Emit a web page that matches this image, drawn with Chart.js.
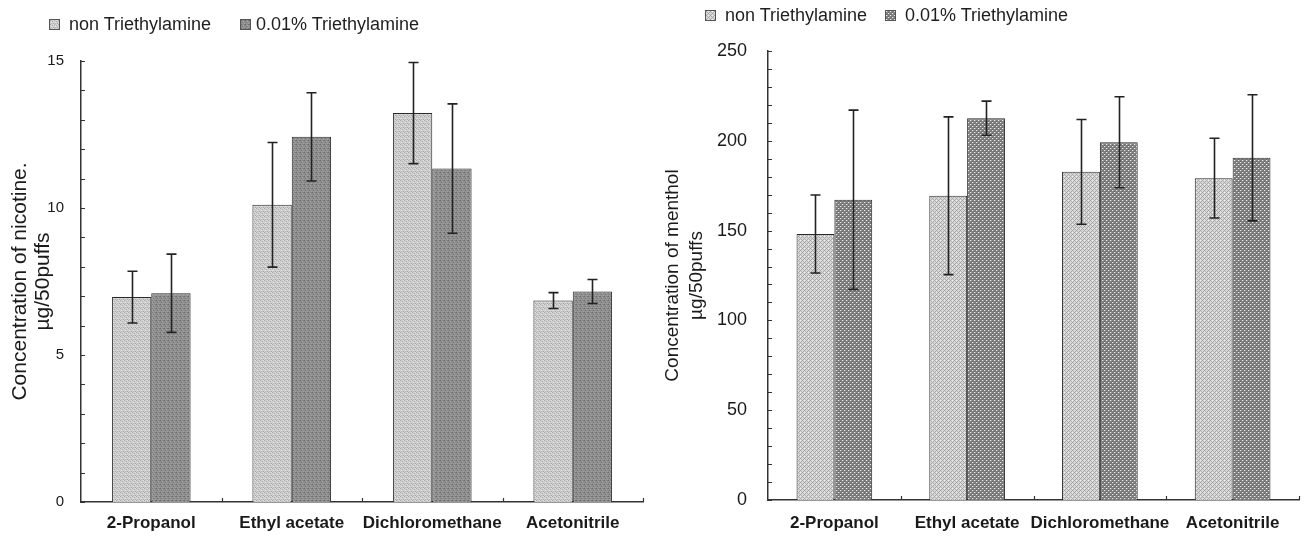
<!DOCTYPE html>
<html>
<head>
<meta charset="utf-8">
<script src="https://cdn.jsdelivr.net/npm/chart.js@4.4.1/dist/chart.umd.min.js"></script>
<style>
  html, body { margin: 0; padding: 0; background: #fff; }
  body { width: 1304px; height: 540px; position: relative; overflow: hidden;
         font-family: "Liberation Sans", Arial, sans-serif; color: #1e1e1e; }
  .panel { position: absolute; top: 0; height: 540px; }
  #leftPanel { left: 0; width: 650px; }
  #rightPanel { left: 650px; width: 654px; }
  .lg { position: absolute; font-size: 18px; line-height: 18px; white-space: nowrap; }
  .sw { position: absolute; width: 11px; height: 11px; box-sizing: border-box; border: 1px solid #555; }
</style>
</head>
<body>
<div class="panel" id="leftPanel"><canvas id="nicotineChart"></canvas></div>
<div class="panel" id="rightPanel"><canvas id="mentholChart"></canvas></div>

<div class="sw" id="swL0" style="left:49px; top:19px;"></div>
<div class="lg" style="left:69px; top:15px;">non Triethylamine</div>
<div class="sw" id="swL1" style="left:240px; top:19px;"></div>
<div class="lg" style="left:256px; top:15px;">0.01% Triethylamine</div>

<div class="sw" id="swR0" style="left:705px; top:10px;"></div>
<div class="lg" style="left:725px; top:6px;">non Triethylamine</div>
<div class="sw" id="swR1" style="left:885px; top:10px;"></div>
<div class="lg" style="left:905px; top:6px;">0.01% Triethylamine</div>

<script>
const categories = ["2-Propanol", "Ethyl acetate", "Dichloromethane", "Acetonitrile"];
const seriesNames = ["non Triethylamine", "0.01% Triethylamine"];

// nicotine, µg/50puffs (mean and error half-width)
const nicotineNon    = [6.97, 10.11, 13.23, 6.85];
const nicotineNonErr = [0.88, 2.12, 1.72, 0.27];
const nicotineTea    = [7.10, 12.42, 11.34, 7.16];
const nicotineTeaErr = [1.33, 1.50, 2.20, 0.41];

// menthol, µg/50puffs
const mentholNon    = [148.1, 169.4, 182.7, 179.2];
const mentholNonErr = [21.7, 43.9, 29.2, 22.2];
const mentholTea    = [167.2, 212.6, 199.2, 190.5];
const mentholTeaErr = [49.9, 9.5, 25.3, 35.1];

const nicotineTicks = [0, 5, 10, 15];
const mentholTicks = [0, 50, 100, 150, 200, 250];

document.addEventListener("DOMContentLoaded", function () {

    Chart.defaults.font.family = "'Liberation Sans', Arial, sans-serif";
    Chart.defaults.color = "#1e1e1e";

    function makePattern(size, base, marks) {
        const c = document.createElement("canvas");
        c.width = size; c.height = size;
        const g = c.getContext("2d");
        g.fillStyle = base;
        g.fillRect(0, 0, size, size);
        marks.forEach(([x, y, col]) => { g.fillStyle = col; g.fillRect(x, y, 1, 1); });
        return c;
    }

    const tiles = {
        leftLight: makePattern(4, "#cfcfcf", [[0,0,"#aaaaaa"],[2,1,"#b0b0b0"],[1,2,"#e4e4e4"],[3,3,"#a8a8a8"],[3,0,"#e0e0e0"],[1,3,"#b4b4b4"]]),
        leftDark:  makePattern(4, "#8e8e8e", [[0,0,"#6c6c6c"],[2,1,"#a6a6a6"],[1,2,"#727272"],[3,3,"#a4a4a4"],[3,0,"#777777"],[1,3,"#9c9c9c"]]),
        rightLight: makePattern(4, "#d8d8d8", [[0,0,"#a2a2a2"],[1,1,"#b0b0b0"],[2,2,"#a2a2a2"],[3,3,"#b0b0b0"],[3,1,"#a8a8a8"],[1,3,"#a8a8a8"],[2,0,"#eeeeee"]]),
        rightDark: makePattern(4, "#7e7e7e", [[0,0,"#f2f2f2"],[2,2,"#e8e8e8"],[1,0,"#9a9a9a"],[3,2,"#9a9a9a"],[2,1,"#6a6a6a"],[0,3,"#6a6a6a"]]),
    };

    const fill = {};
    const probe = document.createElement("canvas").getContext("2d");
    Object.keys(tiles).forEach(k => { fill[k] = probe.createPattern(tiles[k], "repeat"); });

    [["swL0", "leftLight"], ["swL1", "leftDark"], ["swR0", "rightLight"], ["swR1", "rightDark"]].forEach(([id, k]) => {
        document.getElementById(id).style.background = "url(" + tiles[k].toDataURL() + ")";
    });

    const errorBars = {
        id: "errorBars",
        afterDatasetsDraw(chart, args, opts) {
            const ctx = chart.ctx, yScale = chart.scales.y;
            ctx.save();
            ctx.strokeStyle = "#222";
            ctx.lineWidth = 1.6;
            chart.data.datasets.forEach((ds, di) => {
                chart.getDatasetMeta(di).data.forEach((bar, i) => {
                    const v = ds.data[i], e = opts.errors[di][i];
                    const top = yScale.getPixelForValue(v + e);
                    const bot = yScale.getPixelForValue(v - e);
                    const x = Math.round(bar.x) + 0.5;
                    ctx.beginPath();
                    ctx.moveTo(x, top); ctx.lineTo(x, bot);
                    ctx.moveTo(x - opts.cap, top); ctx.lineTo(x + opts.cap, top);
                    ctx.moveTo(x - opts.cap, bot); ctx.lineTo(x + opts.cap, bot);
                    ctx.stroke();
                });
            });
            ctx.restore();
        }
    };

    // short tick marks pointing into the plot
    const innerTicks = {
        id: "innerTicks",
        afterDraw(chart, args, opts) {
            const { ctx, chartArea, scales: { x, y } } = chart;
            ctx.save();
            ctx.strokeStyle = "#333";
            ctx.lineWidth = 1.2;
            ctx.beginPath();
            y.ticks.forEach(t => {
                const py = Math.round(y.getPixelForValue(t.value)) + 0.5;
                ctx.moveTo(chartArea.left, py);
                ctx.lineTo(chartArea.left + opts.len, py);
            });
            for (let i = 0; i < categories.length; i++) {
                const px = Math.round(x.getPixelForValue(i + 0.5)) + 0.5;
                ctx.moveTo(px, chartArea.bottom);
                ctx.lineTo(px, chartArea.bottom - opts.len);
            }
            ctx.stroke();
            ctx.restore();
        }
    };

    function buildChart(canvasId, s) {
        return new Chart(document.getElementById(canvasId), {
            type: "bar",
            data: {
                labels: categories,
                datasets: [
                    { label: seriesNames[0], data: s.non, backgroundColor: s.fills[0] },
                    { label: seriesNames[1], data: s.tea, backgroundColor: s.fills[1] },
                ].map(d => Object.assign(d, {
                    borderColor: "#2a2a2a",
                    borderWidth: 1,
                    borderSkipped: "bottom",
                    categoryPercentage: s.barPct,
                    barPercentage: 1,
                })),
            },
            options: {
                responsive: true,
                maintainAspectRatio: false,
                animation: false,
                layout: { padding: { top: s.top, right: s.right, bottom: 0, left: 0 } },
                plugins: {
                    legend: { display: false },
                    tooltip: { enabled: false },
                    errorBars: { errors: [s.nonErr, s.teaErr], cap: 5 },
                    innerTicks: { len: 4 },
                },
                scales: {
                    x: {
                        grid: { display: false, drawTicks: false },
                        border: { display: true, color: "#333", width: 1.5 },
                        ticks: { font: { size: 17, weight: "bold" }, padding: s.xPad, color: "#1a1a1a",
                                 maxRotation: 0, minRotation: 0, autoSkip: false },
                        afterFit(scale) { scale.height = s.xHeight; },
                    },
                    y: {
                        min: 0,
                        max: s.max,
                        grid: { display: false, drawTicks: false },
                        border: { display: true, color: "#333", width: 1.5 },
                        ticks: {
                            stepSize: s.step,
                            autoSkip: false,
                            padding: s.yPad,
                            font: { size: s.yFont },
                            color: "#1a1a1a",
                            callback: v => s.tickLabels.includes(v) ? String(v) : "",
                        },
                        title: {
                            display: true,
                            text: s.title,
                            color: "#1a1a1a",
                            font: { size: s.titleFont, lineHeight: s.titleLine },
                            padding: { top: s.titlePad, bottom: 0 },
                        },
                        afterFit(scale) { scale.width = s.yWidth; },
                    },
                },
            },
            plugins: [errorBars, innerTicks],
        });
    }

    buildChart("nicotineChart", {
        non: nicotineNon, tea: nicotineTea,
        nonErr: nicotineNonErr, teaErr: nicotineTeaErr,
        fills: [fill.leftLight, fill.leftDark],
        barPct: 0.56, max: 15, step: 1, tickLabels: nicotineTicks,
        top: 61, right: 7, xHeight: 38, xPad: 11, yWidth: 81, yPad: 17, yFont: 15,
        title: ["Concentration of nicotine.", "µg/50puffs"], titleFont: 21, titleLine: 1.1, titlePad: 8.5,
    });

    buildChart("mentholChart", {
        non: mentholNon, tea: mentholTea,
        nonErr: mentholNonErr, teaErr: mentholTeaErr,
        fills: [fill.rightLight, fill.rightDark],
        barPct: 0.57, max: 250, step: 10, tickLabels: mentholTicks,
        top: 51, right: 5, xHeight: 40, xPad: 13, yWidth: 118, yPad: 21, yFont: 18,
        title: ["Concentration of menthol", "µg/50puffs"], titleFont: 19, titleLine: 1.27, titlePad: 11,
    });
});
</script>
</body>
</html>
